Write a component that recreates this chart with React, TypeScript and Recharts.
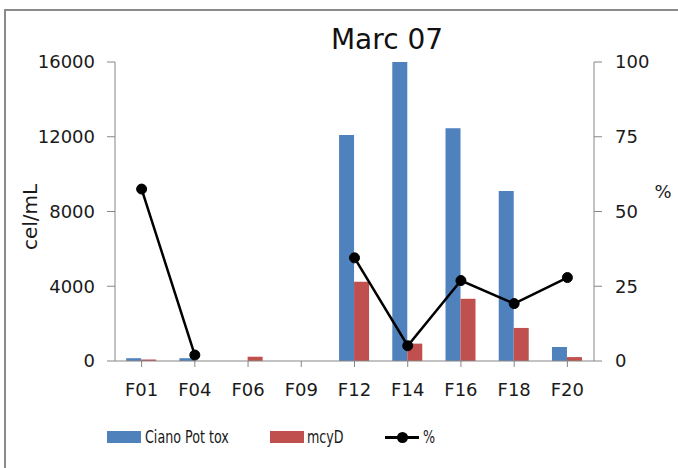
import React from "react";
import {
  ComposedChart,
  Bar,
  Line,
  XAxis,
  YAxis,
  Legend,
} from "recharts";

const sites = ["F01", "F04", "F06", "F09", "F12", "F14", "F16", "F18", "F20"];
const cianoPotTox = [150, 150, 0, 0, 12100, 16000, 12450, 9100, 750];
const mcyD = [80, 0, 230, 0, 4240, 930, 3330, 1770, 210];
const percent: (number | null)[] = [57.5, 2, null, null, 34.5, 5.1, 26.9, 19.2, 27.9];

const leftTicks = [0, 4000, 8000, 12000, 16000];
const rightTicks = [0, 25, 50, 75, 100];

const data = sites.map((site, i) => ({
  site,
  ciano: cianoPotTox[i],
  mcyd: mcyD[i],
  pct: percent[i],
}));

const BLUE = "#4F81BD";
const RED = "#C0504D";
const AXIS = "#868686";
const FONT = "DejaVu Sans";

const tickStyle = { fontFamily: FONT, fontSize: 18, fill: "#1a1a1a" };

function ChartLegend() {
  const textStyle: React.CSSProperties = {
    fontFamily: "'DejaVu Sans Condensed', sans-serif",
    fontSize: 17,
    color: "#1a1a1a",
    lineHeight: "30px",
    position: "absolute",
    top: 0,
    whiteSpace: "nowrap",
    transform: "scaleX(0.83)",
    transformOrigin: "left center",
  };
  const swatch = (left: number, color: string): React.CSSProperties => ({
    position: "absolute",
    left,
    top: 9,
    width: 34,
    height: 12,
    background: color,
  });
  return (
    <div style={{ position: "relative", width: 678, height: 30 }}>
      <div style={swatch(107, BLUE)} />
      <span style={{ ...textStyle, left: 145 }}>Ciano Pot tox</span>
      <div style={swatch(270, RED)} />
      <span style={{ ...textStyle, left: 307 }}>mcyD</span>
      <div
        style={{
          position: "absolute",
          left: 385,
          top: 14,
          width: 34,
          height: 3,
          background: "#000",
        }}
      />
      <div
        style={{
          position: "absolute",
          left: 397,
          top: 10,
          width: 11,
          height: 11,
          borderRadius: "50%",
          background: "#000",
        }}
      />
      <span style={{ ...textStyle, left: 423 }}>%</span>
    </div>
  );
}

export default function App() {
  return (
    <div
      style={{
        position: "absolute",
        left: 0,
        top: 0,
        width: 678,
        height: 468,
        background: "#fff",
        overflow: "hidden",
      }}
    >
      <div
        style={{
          position: "absolute",
          left: 4,
          top: 9,
          width: 720,
          height: 520,
          border: "2px solid #8a8a8a",
        }}
      />
      <div
        style={{
          position: "absolute",
          left: 287,
          top: 20,
          width: 200,
          textAlign: "center",
          fontFamily: FONT,
          fontSize: 28,
          color: "#111",
          lineHeight: "40px",
        }}
      >
        Marc 07
      </div>
      <div style={{ position: "absolute", left: 0, top: 0 }}>
        <ComposedChart
          width={678}
          height={468}
          data={data}
          margin={{ top: 62, right: 0, bottom: 16, left: 0 }}
          barCategoryGap="21%"
          barGap={0}
        >
          <XAxis
            dataKey="site"
            height={61}
            tickSize={6}
            tickMargin={16}
            axisLine={{ stroke: AXIS }}
            tickLine={{ stroke: AXIS }}
            tick={tickStyle}
            interval={0}
          />
          <YAxis
            yAxisId="left"
            width={115}
            domain={[0, 16000]}
            ticks={leftTicks}
            tickSize={8}
            tickMargin={12}
            axisLine={{ stroke: AXIS }}
            tickLine={{ stroke: AXIS }}
            tick={tickStyle}
            allowDataOverflow
            label={{
              content: () => (
                <text
                  x={30}
                  y={217}
                  transform="rotate(-90 30 217)"
                  textAnchor="middle"
                  dominantBaseline="central"
                  fontFamily={FONT}
                  fontSize={20}
                  fill="#1a1a1a"
                >
                  cel/mL
                </text>
              ),
            }}
          />
          <YAxis
            yAxisId="right"
            orientation="right"
            width={84}
            domain={[0, 100]}
            ticks={rightTicks}
            tickSize={8}
            tickMargin={13}
            axisLine={{ stroke: AXIS }}
            tickLine={{ stroke: AXIS }}
            tick={tickStyle}
            label={{
              content: () => (
                <text
                  x={663}
                  y={191}
                  textAnchor="middle"
                  dominantBaseline="central"
                  fontFamily={FONT}
                  fontSize={18}
                  fill="#1a1a1a"
                >
                  %
                </text>
              ),
            }}
          />
          <Legend
            verticalAlign="bottom"
            height={30}
            content={() => <ChartLegend />}
          />
          <Bar
            yAxisId="left"
            dataKey="ciano"
            name="Ciano Pot tox"
            fill={BLUE}
            isAnimationActive={false}
          />
          <Bar
            yAxisId="left"
            dataKey="mcyd"
            name="mcyD"
            fill={RED}
            isAnimationActive={false}
          />
          <Line
            yAxisId="right"
            dataKey="pct"
            name="%"
            type="linear"
            stroke="#000"
            strokeWidth={2.5}
            dot={{ r: 5, fill: "#000", stroke: "#000", strokeWidth: 1 }}
            connectNulls={false}
            isAnimationActive={false}
          />
        </ComposedChart>
      </div>
    </div>
  );
}
